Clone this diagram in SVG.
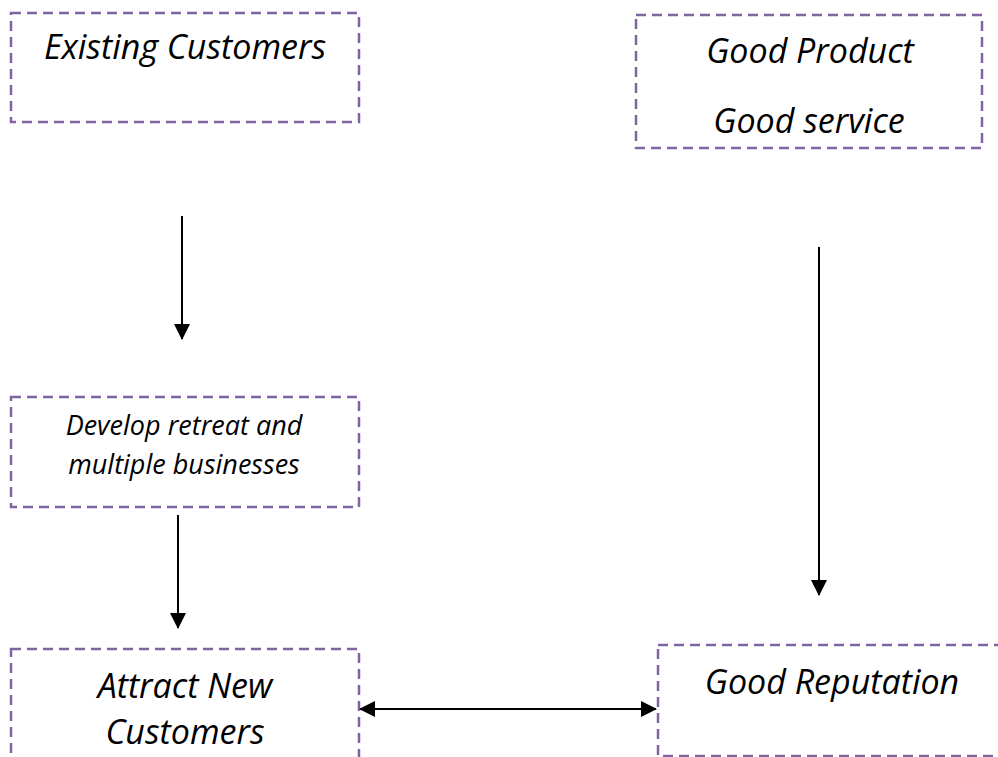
<svg xmlns="http://www.w3.org/2000/svg" width="998" height="757" viewBox="0 0 998 757">
<style>
.box{fill:none;stroke:#8064A2;stroke-width:2.5;stroke-dasharray:10 6}
.t{font-family:"Open Sans","Liberation Sans",sans-serif;font-style:italic;fill:#000;text-anchor:middle}
.big{font-size:34px}
.sm{font-size:27px}
.c{stroke:#000;stroke-width:2;fill:none}
</style>
<defs>
<marker id="ah" markerWidth="8" markerHeight="8" refX="7.5" refY="4" orient="auto-start-reverse" markerUnits="strokeWidth">
<path d="M0,0 L8,4 L0,8 Z" fill="#000"/>
</marker>
</defs>
<rect width="998" height="757" fill="#fff"/>
<g id="existing-customers">
<rect class="box" x="11" y="13" width="348" height="109"/>
<text class="t big" x="185" y="59">Existing Customers</text>
</g>
<g id="good-product">
<rect class="box" x="636" y="15" width="346" height="133"/>
<text class="t big" x="810" y="63">Good Product</text>
<text class="t big" x="809" y="133">Good service</text>
</g>
<g id="develop">
<rect class="box" x="11" y="397" width="348" height="110"/>
<text class="t sm" x="184" y="435">Develop retreat and</text>
<text class="t sm" x="184" y="474">multiple businesses</text>
</g>
<g id="attract">
<rect class="box" x="11" y="649" width="348" height="120"/>
<text class="t big" x="185" y="698">Attract New</text>
<text class="t big" x="185" y="744">Customers</text>
</g>
<g id="reputation">
<rect class="box" x="658" y="645" width="360" height="111"/>
<text class="t big" x="832" y="694">Good Reputation</text>
</g>
<g id="connectors">
<line class="c" x1="182" y1="216" x2="182" y2="339" marker-end="url(#ah)"/>
<line class="c" x1="178" y1="515" x2="178" y2="628" marker-end="url(#ah)"/>
<line class="c" x1="819" y1="247" x2="819" y2="595" marker-end="url(#ah)"/>
<line class="c" x1="360" y1="709" x2="656" y2="709" marker-start="url(#ah)" marker-end="url(#ah)"/>
</g>
</svg>
